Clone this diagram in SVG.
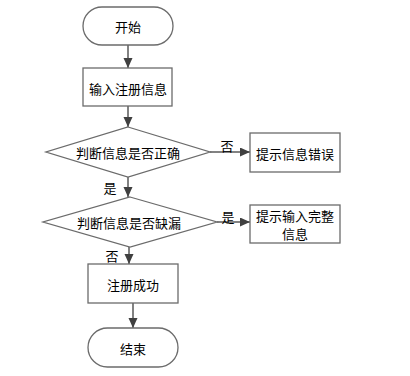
<svg xmlns="http://www.w3.org/2000/svg" width="410" height="376" viewBox="0 0 410 376">
<style>
.n{fill:#fff;stroke:#6b6b6b;stroke-width:1.3}
.t{font-family:"Noto Sans CJK SC","Microsoft YaHei",sans-serif;font-size:13px;fill:#000;text-anchor:middle;dominant-baseline:central}
.c{stroke:#595959;stroke-width:1.5;fill:none;marker-end:url(#a)}
</style>
<defs>
<marker id="a" markerUnits="userSpaceOnUse" markerWidth="11" markerHeight="10" refX="10" refY="4.5" orient="auto">
<path d="M0,0 L10,4.5 L0,9 z" fill="#404040"/>
</marker>
</defs>
<rect width="410" height="376" fill="#fff"/>
<g id="connectors">
<line class="c" x1="128" y1="45" x2="128" y2="68"/>
<line class="c" x1="128" y1="106" x2="128" y2="127"/>
<line class="c" x1="128" y1="177" x2="128" y2="197"/>
<line class="c" x1="210" y1="152" x2="250" y2="152"/>
<line class="c" x1="217" y1="222" x2="250" y2="222"/>
<line class="c" x1="129" y1="247" x2="129" y2="264"/>
<line class="c" x1="133" y1="303" x2="133" y2="328"/>
<text class="t" x="227" y="145">否</text>
<text class="t" x="110" y="187">是</text>
<text class="t" x="228" y="216">是</text>
<text class="t" x="112" y="255">否</text>
</g>
<g id="start">
<rect class="n" x="83" y="7" width="90" height="38" rx="19"/>
<text class="t" x="128" y="26">开始</text>
</g>
<g id="input">
<rect class="n" x="83" y="68" width="89" height="38"/>
<text class="t" x="128" y="88">输入注册信息</text>
</g>
<g id="check1">
<polygon class="n" points="128,127 210,152 128,177 46,152"/>
<text class="t" x="128" y="152">判断信息是否正确</text>
</g>
<g id="err1">
<rect class="n" x="250" y="133" width="90" height="39"/>
<text class="t" x="295" y="153">提示信息错误</text>
</g>
<g id="check2">
<polygon class="n" points="130,197 217,222 130,247 43,222"/>
<text class="t" x="129" y="222">判断信息是否缺漏</text>
</g>
<g id="err2">
<rect class="n" x="250" y="205" width="90" height="38"/>
<text class="t" x="295" y="215">提示输入完整</text>
<text class="t" x="295" y="233">信息</text>
</g>
<g id="success">
<rect class="n" x="88" y="264" width="90" height="39"/>
<text class="t" x="133" y="284">注册成功</text>
</g>
<g id="end">
<rect class="n" x="88" y="328" width="90" height="39" rx="19.5"/>
<text class="t" x="133" y="348">结束</text>
</g>
</svg>
